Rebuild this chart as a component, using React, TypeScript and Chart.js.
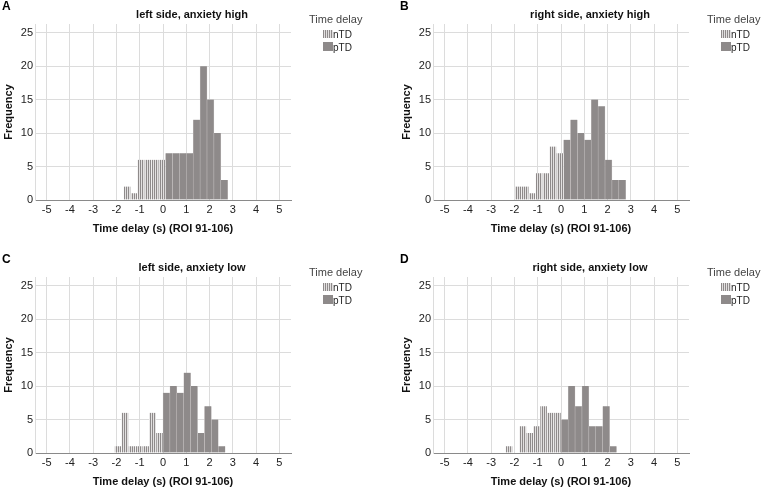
import React, { useEffect, useRef } from "react";
import { Chart, registerables } from "chart.js";

Chart.register(...registerables);

// ---- axis ticks ----
const X_TICKS = [-5, -4, -3, -2, -1, 0, 1, 2, 3, 4, 5];
const Y_TICKS = [0, 5, 10, 15, 20, 25];
const X_MIN = -5.5;
const X_MAX = 5.5;
const Y_MAX = 26.3;

// ---- Panel A: left side, anxiety high ----
const A_nTD_x = [-1.542, -1.245, -0.948, -0.651, -0.354, -0.057];
const A_nTD_n = [2, 1, 6, 6, 6, 6];
const A_pTD_x = [0.258, 0.555, 0.852, 1.149, 1.446, 1.743, 2.04, 2.337, 2.634];
const A_pTD_n = [7, 7, 7, 7, 12, 20, 15, 10, 3];

// ---- Panel B: right side, anxiety high ----
const B_nTD_x = [-1.832, -1.535, -1.238, -0.941, -0.644, -0.347, -0.05];
const B_nTD_n = [2, 2, 1, 4, 4, 8, 7];
const B_pTD_x = [0.259, 0.556, 0.853, 1.15, 1.447, 1.744, 2.041, 2.338, 2.635];
const B_pTD_n = [9, 12, 10, 9, 15, 14, 6, 3, 3];

// ---- Panel C: left side, anxiety low ----
const C_nTD_x = [-1.931, -1.634, -1.337, -1.04, -0.743, -0.446, -0.149];
const C_nTD_n = [1, 6, 1, 1, 1, 6, 3];
const C_pTD_x = [0.149, 0.446, 0.743, 1.04, 1.337, 1.634, 1.931, 2.228, 2.525];
const C_pTD_n = [9, 10, 9, 12, 10, 3, 7, 5, 1];

// ---- Panel D: right side, anxiety low ----
const D_nTD_x = [-2.232, -1.638, -1.341, -1.044, -0.747, -0.45, -0.153];
const D_nTD_n = [1, 4, 3, 4, 7, 6, 6];
const D_pTD_x = [0.159, 0.456, 0.753, 1.05, 1.347, 1.644, 1.941, 2.238];
const D_pTD_n = [5, 10, 7, 10, 4, 4, 7, 1];

const TITLES = [
  "left side, anxiety high",
  "right side, anxiety high",
  "left side, anxiety low",
  "right side, anxiety low",
];
const LETTERS = ["A", "B", "C", "D"];
const SERIES_NAMES = ["nTD", "pTD"];
const LEGEND_TITLE = "Time delay";
const X_TITLE = "Time delay (s) (ROI 91-106)";
const Y_TITLE = "Frequency";

const FONT = "'Liberation Sans', Arial, Helvetica, sans-serif";
const PTD_COLOR = "#8e8a8a";
const STRIPE_DARK = "#8e8a8a";
const STRIPE_LIGHT = "#e2e0e0";
const GRID = "#dcdcdc";

const PANEL_W = 365;
const PANEL_H = 236;

function makeStripes(): CanvasPattern | string {
  const c = document.createElement("canvas");
  c.width = 2;
  c.height = 2;
  const g = c.getContext("2d");
  if (!g) return STRIPE_DARK;
  g.fillStyle = STRIPE_LIGHT;
  g.fillRect(0, 0, 2, 2);
  g.fillStyle = STRIPE_DARK;
  g.fillRect(0, 0, 1, 2);
  return g.createPattern(c, "repeat") || STRIPE_DARK;
}

type PanelProps = {
  ox: number;
  oy: number;
  idx: number;
  nx: number[];
  nn: number[];
  px: number[];
  pn: number[];
};

function Panel({ ox, oy, idx, nx, nn, px, pn }: PanelProps) {
  const ref = useRef<HTMLCanvasElement>(null);

  useEffect(() => {
    const canvas = ref.current;
    if (!canvas) return;
    const stripes = makeStripes();
    const chart = new Chart(canvas, {
      type: "bar",
      data: {
        datasets: [
          {
            label: SERIES_NAMES[0],
            data: nx.map((x, i) => ({ x, y: nn[i] })),
            backgroundColor: stripes as any,
            borderColor: "#ffffff",
            borderWidth: { left: 0.5, right: 0.5, top: 0, bottom: 0 },
            grouped: false,
            barPercentage: 1,
            categoryPercentage: 1,
          } as any,
          {
            label: SERIES_NAMES[1],
            data: px.map((x, i) => ({ x, y: pn[i] })),
            backgroundColor: PTD_COLOR,
            borderColor: "#cfcbcb",
            borderWidth: { left: 0.5, right: 0.5, top: 0, bottom: 0 },
            grouped: false,
            barPercentage: 1,
            categoryPercentage: 1,
          } as any,
        ],
      },
      options: {
        responsive: false,
        animation: false,
        devicePixelRatio: 1,
        layout: { padding: { left: 0, top: 24, right: PANEL_W - 291, bottom: 0 } },
        plugins: {
          legend: { display: false },
          title: { display: false },
          tooltip: { enabled: false },
        },
        scales: {
          x: {
            type: "linear",
            min: X_MIN,
            max: X_MAX,
            offset: false,
            grid: { offset: false, color: GRID, drawTicks: false, lineWidth: 1 },
            border: { color: "#8a8a8a", width: 1 },
            ticks: { padding: 3, color: "#222", font: { family: FONT, size: 11 } },
            afterBuildTicks: (s: any) => {
              s.ticks = X_TICKS.map((v) => ({ value: v }));
            },
            afterFit: (s: any) => {
              s.height = 36;
            },
            title: {
              display: true,
              text: X_TITLE,
              color: "#111",
              font: { family: FONT, size: 11, weight: "bold" },
              padding: { top: 0, bottom: 0.5 },
            },
          } as any,
          y: {
            type: "linear",
            min: 0,
            max: Y_MAX,
            grid: { color: GRID, drawTicks: false, lineWidth: 1 },
            border: { color: GRID, width: 1 },
            ticks: { padding: 2, color: "#222", font: { family: FONT, size: 11 } },
            afterBuildTicks: (s: any) => {
              s.ticks = Y_TICKS.map((v) => ({ value: v }));
            },
            afterFit: (s: any) => {
              s.width = 35;
            },
            title: {
              display: true,
              text: Y_TITLE,
              color: "#111",
              font: { family: FONT, size: 11, weight: "bold" },
              padding: { top: 2, bottom: 0 },
            },
          } as any,
        },
      },
    });
    return () => chart.destroy();
  }, []);

  const stripeCss = `repeating-linear-gradient(90deg, ${STRIPE_DARK} 0px, ${STRIPE_DARK} 1px, ${STRIPE_LIGHT} 1px, ${STRIPE_LIGHT} 2px)`;

  return (
    <div
      style={{
        position: "absolute",
        left: ox,
        top: oy,
        width: PANEL_W,
        height: PANEL_H,
        fontFamily: FONT,
      }}
    >
      <canvas
        ref={ref}
        width={PANEL_W}
        height={PANEL_H}
        style={{ position: "absolute", left: 0, top: 0, width: PANEL_W, height: PANEL_H }}
      />
      <div
        style={{
          position: "absolute",
          left: 2,
          top: -1,
          fontSize: 12,
          lineHeight: "14px",
          fontWeight: "bold",
          color: "#000",
        }}
      >
        {LETTERS[idx]}
      </div>
      <div
        style={{
          position: "absolute",
          left: 192,
          top: 8,
          transform: "translateX(-50%)",
          whiteSpace: "nowrap",
          fontSize: 11,
          lineHeight: "13px",
          fontWeight: "bold",
          color: "#111",
        }}
      >
        {TITLES[idx]}
      </div>
      <div
        style={{
          position: "absolute",
          left: 309,
          top: 13,
          whiteSpace: "nowrap",
          fontSize: 11,
          lineHeight: "13px",
          color: "#444",
        }}
      >
        {LEGEND_TITLE}
      </div>
      <div
        style={{
          position: "absolute",
          left: 323,
          top: 30,
          width: 10,
          height: 8,
          background: stripeCss,
        }}
      />
      <div
        style={{
          position: "absolute",
          left: 333,
          top: 28.5,
          fontSize: 10,
          lineHeight: "12px",
          color: "#222",
        }}
      >
        {SERIES_NAMES[0]}
      </div>
      <div
        style={{
          position: "absolute",
          left: 323,
          top: 42,
          width: 10,
          height: 9,
          background: PTD_COLOR,
        }}
      />
      <div
        style={{
          position: "absolute",
          left: 333,
          top: 41.5,
          fontSize: 10,
          lineHeight: "12px",
          color: "#222",
        }}
      >
        {SERIES_NAMES[1]}
      </div>
    </div>
  );
}

export default function App() {
  return (
    <div
      style={{
        position: "absolute",
        left: 0,
        top: 0,
        width: 763,
        height: 489,
        background: "#fff",
        overflow: "hidden",
      }}
    >
      <Panel ox={0} oy={0} idx={0} nx={A_nTD_x} nn={A_nTD_n} px={A_pTD_x} pn={A_pTD_n} />
      <Panel ox={398} oy={0} idx={1} nx={B_nTD_x} nn={B_nTD_n} px={B_pTD_x} pn={B_pTD_n} />
      <Panel ox={0} oy={253} idx={2} nx={C_nTD_x} nn={C_nTD_n} px={C_pTD_x} pn={C_pTD_n} />
      <Panel ox={398} oy={253} idx={3} nx={D_nTD_x} nn={D_nTD_n} px={D_pTD_x} pn={D_pTD_n} />
    </div>
  );
}
